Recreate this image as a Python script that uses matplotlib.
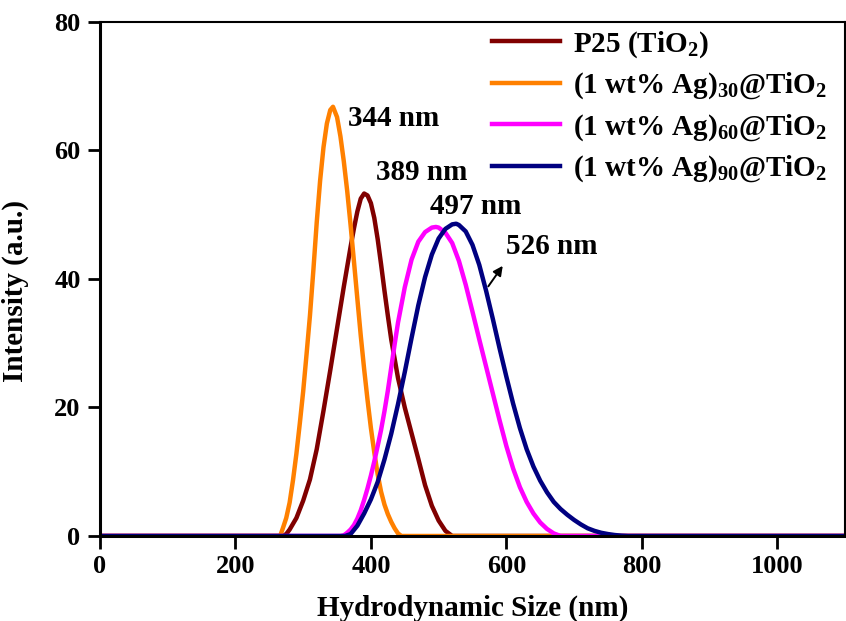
import numpy as np
import matplotlib
matplotlib.use('Agg')
import matplotlib.pyplot as plt

# Values (size in nm, intensity in a.u.)
x_p25 = [0, 270, 275, 280, 290, 300, 310, 320, 330, 340, 350, 360, 370, 375, 380, 385, 390,
         395, 400, 405, 410, 415, 420, 425, 430, 440, 450, 460, 470, 480, 490, 500, 510, 520, 1100]
y_p25 = [0, 0, 0.3, 1.0, 2.8, 5.5, 8.8, 13.5, 19.5, 25.8, 32.3, 38.8, 45, 47.9, 50.5, 52.5, 53.3,
         53.0, 51.8, 49.5, 46.2, 42.3, 38.2, 34.3, 30.6, 24.6, 20, 16, 12, 7.9, 4.7, 2.4, 0.8, 0, 0]

x_ag30 = [0, 266, 270, 275, 280, 285, 290, 295, 300, 305, 310, 315, 320, 325, 330, 335, 340, 344,
          350, 355, 360, 365, 370, 375, 380, 385, 390, 395, 400, 405, 410, 415, 420, 425, 430, 435,
          440, 445, 1100]
y_ag30 = [0, 0, 1.2, 2.8, 5.2, 8.7, 12.8, 17.5, 22.5, 28.3, 34.3, 41.3, 48.8, 55.3, 60.5, 64.2, 66.3, 66.8,
          65.2, 62.2, 58.3, 53.7, 48.4, 42.7, 36.9, 31.2, 26, 21.2, 16.8, 13, 9.6, 6.9, 4.9, 3.4, 2.2, 1.2,
          0.4, 0, 0]

x_ag60 = [0, 355, 360, 365, 370, 375, 380, 385, 390, 395, 400, 405, 410, 415, 420, 425, 430, 435,
          440, 450, 460, 470, 480, 490, 496, 500, 510, 520, 530, 540, 550, 560, 570, 580, 590, 600,
          610, 620, 630, 640, 650, 660, 670, 680, 1100]
y_ag60 = [0, 0, 0.1, 0.5, 1.0, 1.7, 2.7, 4.0, 5.6, 7.4, 9.4, 11.6, 14, 16.5, 19.4, 22.6, 26.2, 29.8,
          33.2, 38.7, 43, 45.8, 47.3, 48, 48.1, 48, 47.2, 45.6, 42.8, 39.1, 34.9, 30.6, 26.4, 22.2,
          18, 14, 10.5, 7.6, 5.3, 3.5, 2.1, 1.1, 0.4, 0, 0]

x_ag90 = [0, 362, 370, 380, 390, 400, 410, 420, 430, 440, 450, 460, 470, 480, 490, 500, 510, 520,
          526, 530, 540, 550, 560, 570, 580, 590, 600, 610, 620, 630, 640, 650, 660, 670, 680, 690,
          700, 710, 720, 730, 740, 750, 760, 770, 780, 1100]
y_ag90 = [0, 0, 0.3, 1.6, 3.5, 5.7, 8.4, 11.9, 15.9, 20.5, 25.5, 30.8, 35.9, 40.3, 43.8, 46.3, 47.8,
          48.5, 48.6, 48.4, 47.4, 45.3, 42.2, 38.2, 33.8, 29.2, 24.8, 20.6, 16.8, 13.5, 10.8, 8.6, 6.8,
          5.3, 4.2, 3.3, 2.5, 1.8, 1.2, 0.8, 0.5, 0.3, 0.15, 0.05, 0, 0]

labels = [r'P25 (TiO$_{2}$)', r'(1 wt% Ag)$_{30}$@TiO$_{2}$',
          r'(1 wt% Ag)$_{60}$@TiO$_{2}$', r'(1 wt% Ag)$_{90}$@TiO$_{2}$']
colors = ['#800000', '#FF8000', '#FF00FF', '#000080']

peak_text = ['344 nm', '389 nm', '497 nm', '526 nm']
peak_pos = [(366, 65), (408, 56.6), (487, 51.3), (599, 45)]

plt.rcParams['font.family'] = ['Liberation Serif', 'DejaVu Serif']
plt.rcParams['font.weight'] = 'bold'
plt.rcParams['mathtext.fontset'] = 'custom'
plt.rcParams['mathtext.rm'] = 'Liberation Serif:bold'
plt.rcParams['mathtext.it'] = 'Liberation Serif:bold'
plt.rcParams['mathtext.bf'] = 'Liberation Serif:bold'

fig = plt.figure(figsize=(8.46, 6.21), dpi=100)
ax = fig.add_axes([0.1182, 0.1369, 0.8806, 0.8277])

series = [(x_p25, y_p25), (x_ag30, y_ag30), (x_ag60, y_ag60), (x_ag90, y_ag90)]
for (xs, ys), lab, c in zip(series, labels, colors):
    ax.plot(xs, ys, color=c, lw=3.2, label=lab, solid_joinstyle='round')

for txt, (tx, ty) in zip(peak_text, peak_pos):
    ax.text(tx, ty, txt, fontsize=21, fontweight='bold', ha='left', va='center')

# arrow pointing at the 526 nm label
ax.annotate('', xy=(597, 42.4), xytext=(571, 38.5),
            arrowprops=dict(arrowstyle='-|>', color='k', lw=1.4, mutation_scale=14))

ax.set_xlim(0, 1100)
ax.set_ylim(0, 80)
ax.set_xticks([0, 200, 400, 600, 800, 1000])
ax.set_yticks([0, 20, 40, 60, 80])
ax.tick_params(axis='both', direction='out', length=9, width=2, pad=5, labelsize=19,
               top=False, right=False)

for s in ['left', 'bottom']:
    ax.spines[s].set_linewidth(2.2)
for s in ['top', 'right']:
    ax.spines[s].set_linewidth(1.5)

ax.set_xlabel('Hydrodynamic Size (nm)', fontsize=21, fontweight='bold', labelpad=12)
ax.set_ylabel('Intensity (a.u.)', fontsize=21, fontweight='bold')
ax.yaxis.set_label_coords(-0.095, 0.477)

ax.legend(loc='upper left', bbox_to_anchor=(0.517, 1.0), frameon=False, fontsize=21,
          handlelength=2.3, handletextpad=0.45, labelspacing=0.37, borderpad=0.25,
          borderaxespad=0)

fig.savefig('out.png', dpi=100)
